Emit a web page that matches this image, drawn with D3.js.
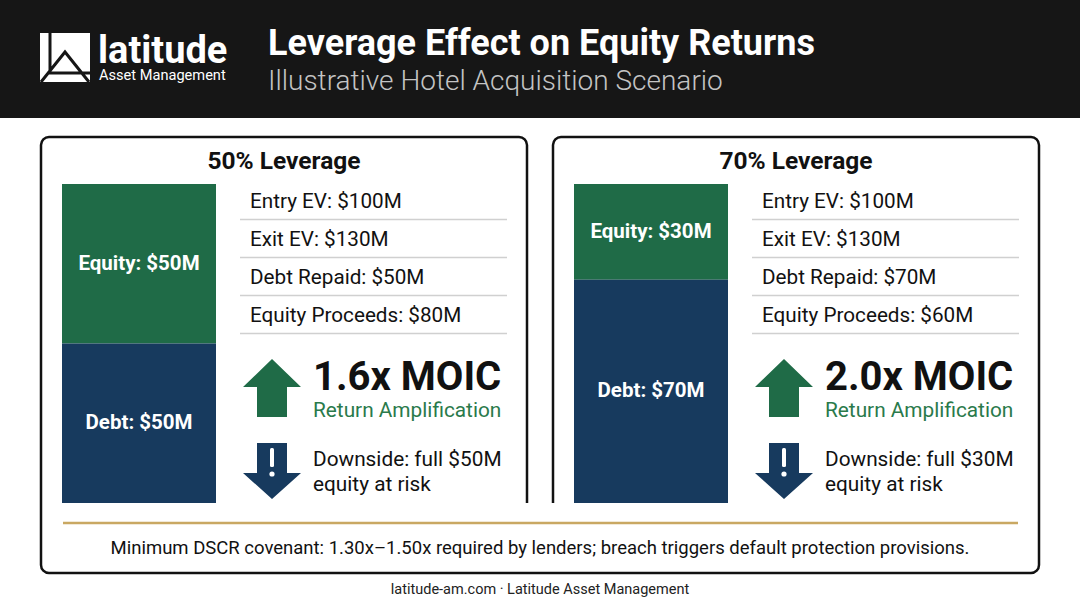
<!DOCTYPE html>
<html>
<head>
<meta charset="utf-8">
<script src="https://cdn.jsdelivr.net/npm/d3@7"></script>
<style>
  html, body { margin: 0; padding: 0; background: #fff; }
  svg { display: block; font-family: Roboto, "Noto Sans", sans-serif; }
</style>
</head>
<body>
<svg id="chart" width="1080" height="603"></svg>
<script>
// scenario data
const scenarios = ["50% Leverage", "70% Leverage"];
const equity = [50, 30];
const debt = [50, 70];
const statLabels = ["Entry EV", "Exit EV", "Debt Repaid", "Equity Proceeds"];
const entryEV = [100, 100];
const exitEV = [130, 130];
const debtRepaid = [50, 70];
const equityProceeds = [80, 60];
const moic = [1.6, 2.0];

const GREEN = "#1f6b47", NAVY = "#173a5e", GOLD = "#c9a862";

const svg = d3.select("#chart");

// header band
svg.append("rect").attr("x", 0).attr("y", 0).attr("width", 1080).attr("height", 118).attr("fill", "#161616");

// logo mark
const logo = svg.append("g");
logo.append("rect").attr("x", 40).attr("y", 33).attr("width", 50).attr("height", 49).attr("fill", "#fff");
logo.append("path")
  .attr("d", "M50,33 V73 H90 M41,82 L65,52 L89,82")
  .attr("fill", "none").attr("stroke", "#161616").attr("stroke-width", 3);
logo.append("text").attr("x", 98).attr("y", 63).attr("fill", "#fff")
  .attr("font-size", 38).attr("font-weight", 700).text("latitude");
logo.append("text").attr("x", 99).attr("y", 80).attr("fill", "#fff")
  .attr("font-size", 14.6).text("Asset Management");

svg.append("text").attr("x", 268).attr("y", 55).attr("fill", "#fff")
  .attr("font-size", 36).attr("font-weight", 700).text("Leverage Effect on Equity Returns");
svg.append("text").attr("x", 268).attr("y", 90).attr("fill", "#c4c4c4")
  .attr("font-size", 28).attr("font-weight", 300).text("Illustrative Hotel Acquisition Scenario");

// scales
const x = d3.scaleBand().domain(scenarios).range([41, 1039]).paddingInner(26 / 512).paddingOuter(0);
const y = d3.scaleLinear().domain([0, 100]).range([184, 503]);

// frame outline: two open-bottom panels joined into one box
const rad = 8, frameTop = 137, frameBottom = 573, innerEnd = 503;
const L = x(scenarios[0]), Lr = L + x.bandwidth();
const R = x(scenarios[1]), Rr = R + x.bandwidth();
const p = d3.path();
p.moveTo(Lr, innerEnd);
p.lineTo(Lr, frameTop + rad); p.arcTo(Lr, frameTop, Lr - rad, frameTop, rad);
p.lineTo(L + rad, frameTop); p.arcTo(L, frameTop, L, frameTop + rad, rad);
p.lineTo(L, frameBottom - rad); p.arcTo(L, frameBottom, L + rad, frameBottom, rad);
p.lineTo(Rr - rad, frameBottom); p.arcTo(Rr, frameBottom, Rr, frameBottom - rad, rad);
p.lineTo(Rr, frameTop + rad); p.arcTo(Rr, frameTop, Rr - rad, frameTop, rad);
p.lineTo(R + rad, frameTop); p.arcTo(R, frameTop, R, frameTop + rad, rad);
p.lineTo(R, innerEnd);
svg.append("path").attr("d", p.toString()).attr("fill", "none")
  .attr("stroke", "#111").attr("stroke-width", 2.5);

const panels = svg.selectAll("g.panel")
  .data(scenarios.map((s, i) => ({ name: s, i: i })))
  .join("g").attr("class", "panel")
  .attr("transform", d => "translate(" + x(d.name) + ",0)");

panels.append("text").attr("x", 243).attr("y", 169).attr("text-anchor", "middle")
  .attr("font-size", 24.5).attr("font-weight", 700).attr("fill", "#111").text(d => d.name);

// stacked capital bar
const barX = 21, barW = 154;
panels.append("rect").attr("x", barX).attr("width", barW)
  .attr("y", d => y(0)).attr("height", d => y(equity[d.i]) - y(0)).attr("fill", GREEN);
panels.append("rect").attr("x", barX).attr("width", barW)
  .attr("y", d => y(equity[d.i])).attr("height", d => y(equity[d.i] + debt[d.i]) - y(equity[d.i])).attr("fill", NAVY);
panels.append("text").attr("x", barX + barW / 2).attr("text-anchor", "middle")
  .attr("y", d => (y(0) + y(equity[d.i])) / 2 + 6)
  .attr("fill", "#fff").attr("font-size", 20.5).attr("font-weight", 700)
  .text(d => "Equity: $" + equity[d.i] + "M");
panels.append("text").attr("x", barX + barW / 2).attr("text-anchor", "middle")
  .attr("y", d => (y(equity[d.i]) + y(equity[d.i] + debt[d.i])) / 2 + 6)
  .attr("fill", "#fff").attr("font-size", 20.5).attr("font-weight", 700)
  .text(d => "Debt: $" + debt[d.i] + "M");

// stats list
const statVals = [entryEV, exitEV, debtRepaid, equityProceeds];
statLabels.forEach((lab, k) => {
  panels.append("text").attr("x", 209).attr("y", 208 + k * 38)
    .attr("font-size", 20.7).attr("fill", "#111")
    .text(d => lab + ": $" + statVals[k][d.i] + "M");
  panels.append("line").attr("x1", 199).attr("x2", 466)
    .attr("y1", 219.5 + k * 38).attr("y2", 219.5 + k * 38)
    .attr("stroke", "#d0d0d0").attr("stroke-width", 1.5);
});

// up arrow + MOIC
panels.append("path")
  .attr("d", "M231,359 L260,387 L246,387 L246,417 L216,417 L216,387 L202,387 Z")
  .attr("fill", GREEN);
panels.append("text").attr("x", 272).attr("y", 390)
  .attr("font-size", 40).attr("font-weight", 700).attr("fill", "#111")
  .text(d => moic[d.i].toFixed(1) + "x MOIC");
panels.append("text").attr("x", 272).attr("y", 417)
  .attr("font-size", 20.8).attr("fill", "#2a7a4b").text("Return Amplification");

// down arrow + downside
panels.append("path")
  .attr("d", "M216,443 L246,443 L246,473 L260,473 L231,499 L202,473 L216,473 Z")
  .attr("fill", NAVY);
panels.append("rect").attr("x", 229).attr("y", 448).attr("width", 4).attr("height", 19).attr("rx", 1.5).attr("fill", "#fff");
panels.append("circle").attr("cx", 231).attr("cy", 474).attr("r", 2.6).attr("fill", "#fff");
panels.append("text").attr("x", 272).attr("y", 466)
  .attr("font-size", 20.8).attr("fill", "#111")
  .text(d => "Downside: full $" + equity[d.i] + "M");
panels.append("text").attr("x", 272).attr("y", 491)
  .attr("font-size", 20.8).attr("fill", "#111").text("equity at risk");

// covenant note
svg.append("line").attr("x1", 63).attr("x2", 1018).attr("y1", 523).attr("y2", 523)
  .attr("stroke", GOLD).attr("stroke-width", 2.5);
svg.append("text").attr("x", 540).attr("y", 554).attr("text-anchor", "middle")
  .attr("font-size", 18.5).attr("fill", "#111")
  .text("Minimum DSCR covenant: 1.30x\u20131.50x required by lenders; breach triggers default protection provisions.");

svg.append("text").attr("x", 540).attr("y", 594).attr("text-anchor", "middle")
  .attr("font-size", 14.5).attr("fill", "#222")
  .text("latitude-am.com \u00b7 Latitude Asset Management");
</script>
</body>
</html>
